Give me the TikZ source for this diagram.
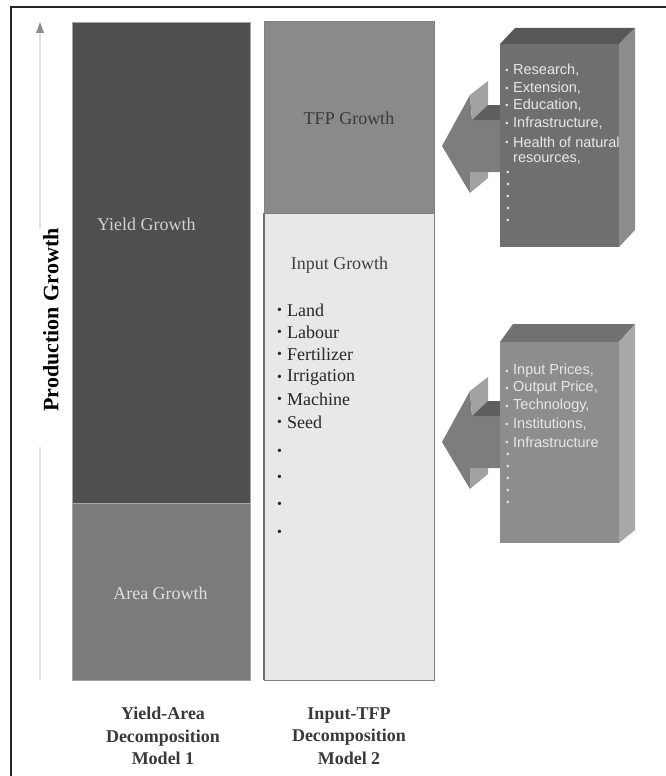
\documentclass[tikz,border=0pt]{standalone}
\usepackage{fontspec}
\setmainfont{Liberation Serif}
\newfontfamily\arialf{Liberation Sans}
\usetikzlibrary{arrows.meta}
\definecolor{yieldc}{HTML}{4F4F4F}
\definecolor{areac}{HTML}{7B7B7B}
\definecolor{tfpc}{HTML}{8A8A8A}
\definecolor{inputc}{HTML}{E8E8E8}
\definecolor{axisc}{HTML}{E2E2E2}
\definecolor{darktxt}{HTML}{3A3A3A}
\definecolor{boxAfront}{HTML}{6F6F6F}
\definecolor{boxAtop}{HTML}{575757}
\definecolor{boxAside}{HTML}{8C8C8C}
\definecolor{boxBfront}{HTML}{8D8D8D}
\definecolor{boxBtop}{HTML}{727272}
\definecolor{boxBside}{HTML}{A8A8A8}
\definecolor{arrfront}{HTML}{7D7D7D}
\definecolor{arrlight}{HTML}{A2A2A2}
\definecolor{arrdark}{HTML}{5E5E5E}
\definecolor{boxtxt}{HTML}{E8E8E8}
\tikzset{
  colbox/.style={rectangle, inner sep=0pt, outer sep=0pt},
  bigtxt/.style={font=\fontsize{18}{22.4}\selectfont, inner sep=0pt},
  labtxt/.style={font=\fontsize{18}{22.4}\selectfont\bfseries, text=darktxt, align=center, inner sep=0pt},
  listtxt/.style={font=\fontsize{18}{22.4}\selectfont, text=black!85, anchor=west, inner sep=0pt},
  listdot/.style={font=\fontsize{14}{14}\selectfont, text=black!85, inner sep=0pt},
  btxt/.style={font=\arialf\fontsize{14.5}{18}\selectfont, text=boxtxt, anchor=west, inner sep=0pt},
  bdot/.style={font=\arialf\fontsize{9}{9}\selectfont, text=boxtxt, inner sep=0pt},
  axisline/.style={draw=axisc, line width=1.2pt},
}
\begin{document}
\begin{tikzpicture}[x=1pt,y=-1pt]
\useasboundingbox (0,0) rectangle (666,776);
\fill[white] (0,0) rectangle (666,776);
% frame
\draw[line width=1.4pt, black!85] (11,776) -- (11,7) -- (666,7);

% axis
\coordinate (axtop) at (40,22);
\coordinate (axbase) at (40,33);
\coordinate (axgapA) at (40,228);
\coordinate (axgapB) at (40,447);
\coordinate (axbot) at (40,680);
\draw[axisline] (axbase) -- (axgapA);
\draw[axisline] (axgapB) -- (axbot);
\fill[black!45] (axtop) -- ([xshift=-4pt]axbase) -- ([xshift=4pt]axbase) -- cycle;
\node[rotate=90, font=\fontsize{22}{26}\selectfont\bfseries, inner sep=0pt] (prodlbl) at (51,320) {Production Growth};

% column 1
\node[colbox, fill=yieldc, draw=black!35, line width=0.8pt, minimum width=178pt, minimum height=481pt] (yield) at (161,262.5) {};
\node[colbox, fill=areac, draw=black!35, line width=0.8pt, minimum width=178pt, minimum height=177pt] (area) at (161,591.5) {};
\node[bigtxt, text=black!18, anchor=west] (yieldlbl) at (97,224) {Yield Growth};
\node[bigtxt, text=black!12] (arealbl) at (160.5,593) {Area Growth};

% column 2
\node[colbox, fill=tfpc, draw=black!50, line width=1pt, minimum width=170pt, minimum height=191pt] (tfp) at (349,117.5) {};
\node[colbox, fill=inputc, draw=black!50, line width=1pt, minimum width=170pt, minimum height=467pt] (input) at (349,446.5) {};
\draw[black!55, line width=1.6pt] (input.north west) -- (input.south west);
\node[bigtxt, text=darktxt] (tfplbl) at (349,118) {TFP Growth};
\node[bigtxt, text=black!75] (inputlbl) at (339.5,265) {Input Growth};

\foreach \t [count=\i] in {Land,Labour,Fertilizer,Irrigation,Machine,Seed}{
  \node[listdot] (lb\i) at (279.5,{288.6+22.4*\i}) {•};
  \node[listtxt] (li\i) at (287,{287.6+22.4*\i}) {\t};
}
\foreach \y [count=\i] in {452,478,505,533}{
  \node[listdot] (ld\i) at (279.5,\y) {•};
}

% arrows (drawn before boxes)
\foreach \dy/\nm in {0/arrA,296/arrB}{
  \begin{scope}[yshift=-\dy pt]
    \fill[arrfront] (442,146) -- (470,95) -- (472,120) -- (504,120) -- (504,172) -- (470,172) -- (470,193) -- cycle;
    \fill[arrlight] (470,95) -- (488,81) -- (488,105) -- (472,120) -- cycle;
    \fill[arrdark] (472,120) -- (488,105) -- (504,105) -- (504,120) -- cycle;
    \fill[arrlight] (470,172) -- (488,172) -- (488,178) -- (470,193) -- cycle;
    \coordinate (\nm) at (442,146);
  \end{scope}
}

% box 1
\fill[boxAtop] (500,44) -- (515,28) -- (635,28) -- (619,44) -- cycle;
\fill[boxAside] (619,44) -- (635,28) -- (635,230) -- (619,247) -- cycle;
\node[colbox, fill=boxAfront, minimum width=119pt, minimum height=203pt] (boxA) at (559.5,145.5) {};
\node[bdot] (ba1) at (507,71) {•};
\node[btxt] (bt1) at (513,70) {Research,};
\node[bdot] (ba2) at (507,89) {•};
\node[btxt] (bt2) at (513,88) {Extension,};
\node[bdot] (ba3) at (507,106) {•};
\node[btxt] (bt3) at (513,105) {Education,};
\node[bdot] (ba4) at (507,124) {•};
\node[btxt] (bt4) at (513,123) {Infrastructure,};
\node[bdot] (ba5) at (507,143) {•};
\node[btxt] (bt5) at (513,142) {Health of natural};
\node[btxt] (bt6) at (513,160) {resources,};
\foreach \y [count=\i] in {173,185,197,209,221}{
  \node[bdot] (bad\i) at (508,\y) {•};
}

% box 2
\fill[boxBtop] (500,342) -- (513,324) -- (635,324) -- (619,342) -- cycle;
\fill[boxBside] (619,342) -- (635,324) -- (635,530) -- (619,543) -- cycle;
\node[colbox, fill=boxBfront, minimum width=119pt, minimum height=201pt] (boxB) at (559.5,442.5) {};
\node[bdot] (bb1) at (507,372) {•};
\node[btxt] (bu1) at (513,371) {Input Prices,};
\node[bdot] (bb2) at (507,389) {•};
\node[btxt] (bu2) at (513,388) {Output Price,};
\node[bdot] (bb3) at (507,407) {•};
\node[btxt] (bu3) at (513,406) {Technology,};
\node[bdot] (bb4) at (507,425) {•};
\node[btxt] (bu4) at (513,424) {Institutions,};
\node[bdot] (bb5) at (507,443) {•};
\node[btxt] (bu5) at (513,442) {Infrastructure};
\foreach \y [count=\i] in {455,467,479,491,503}{
  \node[bdot] (bbd\i) at (508,\y) {•};
}

% bottom labels
\node[labtxt] (lab1) at (163,736) {Yield-Area\\Decomposition\\Model 1};
\node[labtxt] (lab2) at (349,736) {Input-TFP\\Decomposition\\Model 2};
\end{tikzpicture}
\end{document}
